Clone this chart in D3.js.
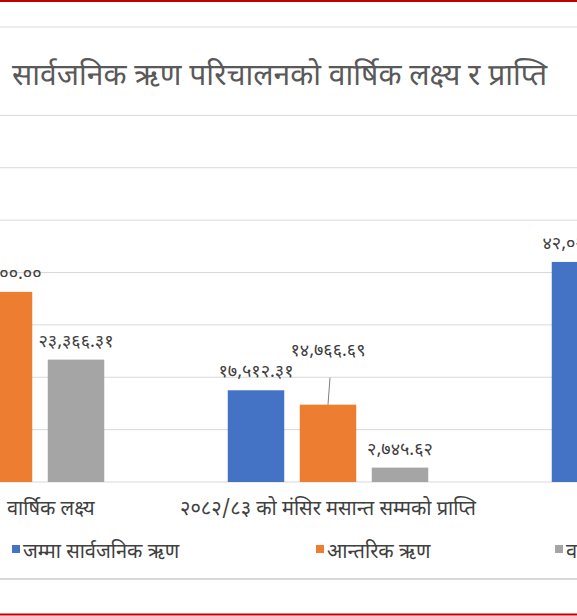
<!DOCTYPE html>
<html><head><meta charset="utf-8">
<script src="https://cdn.jsdelivr.net/npm/d3@7"></script>
<style>body{margin:0;background:#fff}svg{display:block}</style></head>
<body><script>
const categories = ["वार्षिक लक्ष्य", "२०८२/८३ को मंसिर मसान्त सम्मको प्राप्ति", "प्रगति प्रतिशत"];
const series = ["जम्मा सार्वजनिक ऋण", "आन्तरिक ऋण", "वाह्य ऋण"];
const totalDebt = [59666.31, 17512.31, 42020.00];
const domesticDebt = [36300.00, 14766.69, 40680.00];
const externalDebt = [23366.31, 2745.62, 11750.00];
const yTicks = [0, 10000, 20000, 30000, 40000, 50000, 60000, 70000];
const colors = ["#4472C4", "#ED7D31", "#A5A5A5"];
const title = "सार्वजनिक ऋण परिचालनको वार्षिक लक्ष्य र प्राप्ति";

const W = 577, H = 616;
const font = "'Noto Sans Devanagari','Noto Sans',sans-serif";
const dev = s => s.replace(/[0-9]/g, d => "०१२३४५६७८९"[d]);
const fmt = v => dev(d3.format(",.2f")(v));
const svg = d3.select("body").append("svg").attr("width", W).attr("height", H).style("font-family", font);
svg.append("rect").attr("width", W).attr("height", H).attr("fill", "#fff");
svg.append("line").attr("x1",0).attr("x2",W).attr("y1",1).attr("y2",1).attr("stroke","#C00000").attr("stroke-width",2);
svg.append("line").attr("x1",0).attr("x2",W).attr("y1",614.5).attr("y2",614.5).attr("stroke","#C00000").attr("stroke-width",2);
svg.append("line").attr("x1",0).attr("x2",W).attr("y1",27).attr("y2",27).attr("stroke","#D9D9D9");
svg.append("line").attr("x1",0).attr("x2",W).attr("y1",579).attr("y2",579).attr("stroke","#D9D9D9").attr("stroke-width",2);

const x = d3.scaleBand().domain(categories).range([-158, 814]);
const xs = d3.scaleBand().domain(series).range([-108, 108]).paddingInner(15.5/72).paddingOuter(7.75/72);
const y = d3.scaleLinear().domain([0, 80000]).range([482, 63]);

svg.append("g").selectAll("line").data(yTicks.slice(1)).join("line")
  .attr("x1",0).attr("x2",W).attr("y1",d=>y(d)).attr("y2",d=>y(d)).attr("stroke","#D9D9D9");
svg.append("line").attr("x1",0).attr("x2",W).attr("y1",y(0)).attr("y2",y(0)).attr("stroke","#D9D9D9");

svg.append("text").attr("x",12).attr("y",85).attr("font-size",30).attr("fill","#595959").text(title);

const data = [totalDebt, domesticDebt, externalDebt];
const rows = [];
categories.forEach((c,i)=>series.forEach((s,j)=>rows.push({c,s,j,i,v:data[j][i]})));
const cx = d => x(d.c) + x.bandwidth()/2 + xs(d.s);
svg.append("g").selectAll("rect").data(rows).join("rect")
  .attr("x", cx).attr("width", xs.bandwidth())
  .attr("y", d=>y(d.v)).attr("height", d=>y(0)-y(d.v)).attr("fill", d=>colors[d.j]);

const lblUp = d => (d.i===1 && d.j===1) ? 49 : 13;
svg.append("g").selectAll("text").data(rows).join("text")
  .attr("x", d=>cx(d)+xs.bandwidth()/2)
  .attr("y", d=>y(d.v)-lblUp(d)).attr("text-anchor","middle")
  .attr("font-size",18).attr("fill","#404040").text(d=>fmt(d.v));
const lr = rows.find(d=>d.i===1&&d.j===1);
svg.append("line").attr("x1",cx(lr)+xs.bandwidth()/2+2).attr("x2",cx(lr)+xs.bandwidth()/2)
  .attr("y1",y(lr.v)-27).attr("y2",y(lr.v)).attr("stroke","#7f7f7f");

const cl = svg.append("g").selectAll("text").data(categories).join("text")
  .attr("y",515).attr("font-size",20).attr("fill","#404040").text(d=>d)
  .attr("x", function(d){ const w=this.getComputedTextLength(); return Math.max(x(d)+x.bandwidth()/2-w/2, 7); });

const lx = [12, 316, 555];
const lg = svg.append("g").selectAll("g").data(series).join("g").attr("transform",(d,i)=>`translate(${lx[i]},558)`);
lg.append("rect").attr("x",0).attr("y",-13).attr("width",8).attr("height",8).attr("fill",(d,i)=>colors[i]);
lg.append("text").attr("x",11).attr("y",0).attr("font-size",20).attr("fill","#404040").text(d=>d);
</script></body></html>
